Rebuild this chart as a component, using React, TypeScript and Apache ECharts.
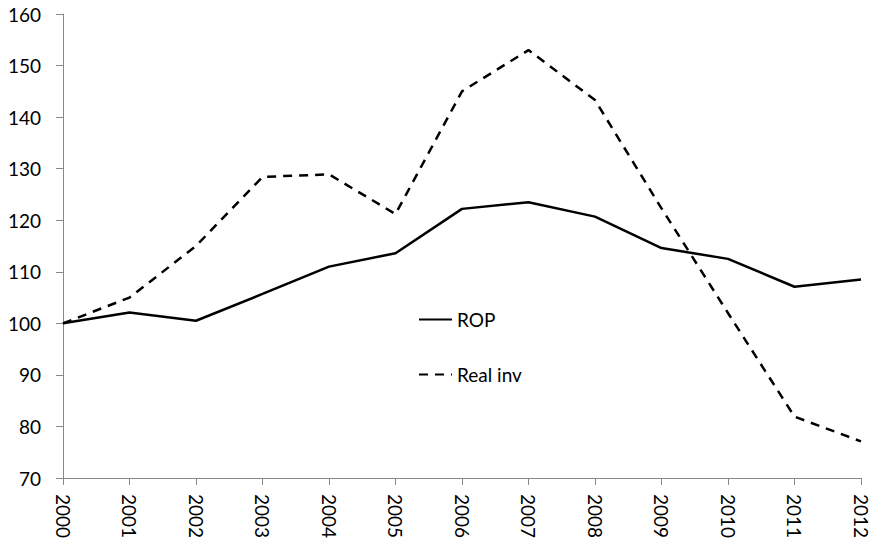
import React, { useEffect, useRef } from "react";
import * as echarts from "echarts";

const years = ["2000","2001","2002","2003","2004","2005","2006","2007","2008","2009","2010","2011","2012"];
const rop = [100, 102.1, 100.5, 105.7, 111.0, 113.6, 122.2, 123.5, 120.7, 114.6, 112.5, 107.1, 108.5];
const realInv = [100, 105.0, 115.0, 128.4, 128.9, 121.2, 145.0, 153.0, 143.3, 122.3, 102.0, 81.9, 77.1];

const FONT = "Lato, 'Open Sans', sans-serif";

export default function App() {
  const ref = useRef<HTMLDivElement>(null);
  useEffect(() => {
    if (!ref.current) return;
    const chart = echarts.init(ref.current, undefined, { renderer: "svg" });
    chart.setOption({
      animation: false,
      backgroundColor: "#ffffff",
      textStyle: { fontFamily: FONT },
      grid: { left: 63, right: 18, top: 14, bottom: 69, containLabel: false },
      legend: {
        orient: "vertical",
        left: 413,
        top: 305,
        itemWidth: 33,
        itemHeight: 14,
        itemGap: 36,
        itemStyle: { opacity: 0 },
        textStyle: { fontSize: 19, color: "#000", fontFamily: FONT },
        data: ["ROP", "Real inv"],
      },
      xAxis: {
        type: "category",
        data: years,
        boundaryGap: false,
        axisLine: { lineStyle: { color: "#888", width: 1 } },
        axisTick: { alignWithLabel: true, length: 7, lineStyle: { color: "#888" } },
        axisLabel: { rotate: -90, fontSize: 19, color: "#000", margin: 16, fontFamily: FONT },
        splitLine: { show: false },
      },
      yAxis: {
        type: "value",
        min: 70,
        max: 160,
        interval: 10,
        axisLine: { show: true, lineStyle: { color: "#888", width: 1 } },
        axisTick: { show: true, length: 7, lineStyle: { color: "#888" } },
        axisLabel: { fontSize: 19, color: "#000", margin: 22, fontFamily: FONT },
        splitLine: { show: false },
      },
      series: [
        {
          name: "ROP",
          type: "line",
          data: rop,
          symbol: "none",
          lineStyle: { color: "#000", width: 2.5, type: "solid" },
          itemStyle: { color: "#000" },
        },
        {
          name: "Real inv",
          type: "line",
          data: realInv,
          symbol: "none",
          lineStyle: { color: "#000", width: 2.5, type: [9, 7] },
          itemStyle: { color: "#000" },
        },
      ],
    });
    return () => chart.dispose();
  }, []);
  return <div ref={ref} style={{ width: 879, height: 547, position: "absolute", left: 0, top: 0 }} />;
}
